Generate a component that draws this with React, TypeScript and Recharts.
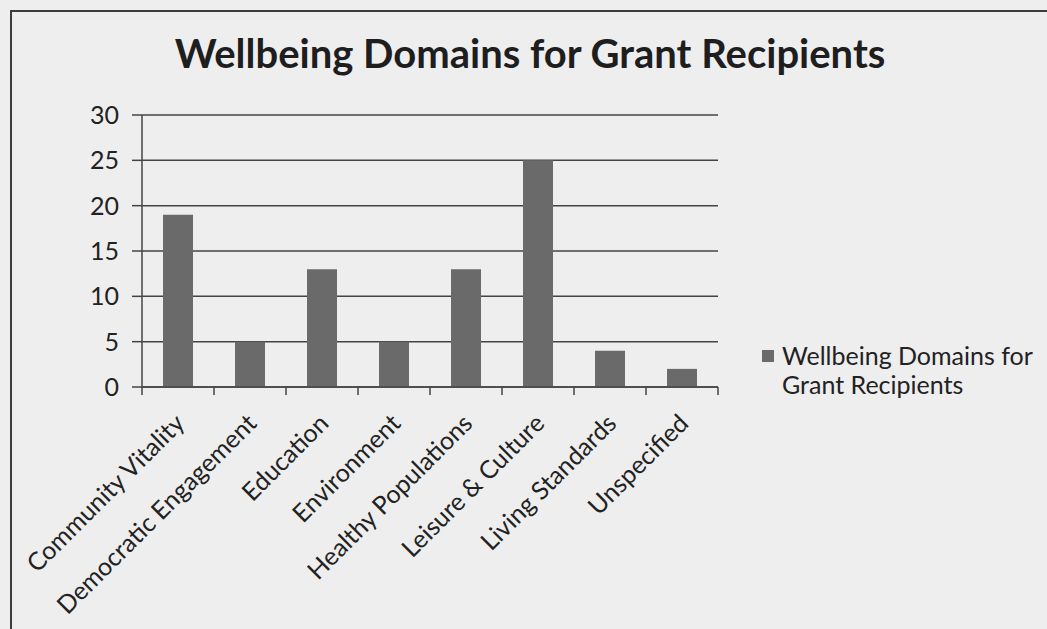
import { Bar, BarChart, CartesianGrid, Legend, XAxis, YAxis } from "recharts"

const domains = [
  "Community Vitality",
  "Democratic Engagement",
  "Education",
  "Environment",
  "Healthy Populations",
  "Leisure & Culture",
  "Living Standards",
  "Unspecified",
]
const recipientCounts = [19, 5, 13, 5, 13, 25, 4, 2]
const countTicks = [0, 5, 10, 15, 20, 25, 30]
const seriesName = "Wellbeing Domains for Grant Recipients"
const chartTitle = "Wellbeing Domains for Grant Recipients"

const data = domains.map((domain, i) => ({ domain, count: recipientCounts[i] }))

const PLOT_WIDTH = 576
const BAND = PLOT_WIDTH / domains.length
const INK = "#444"
const FONT = "Lato, 'Open Sans', sans-serif"

const DomainTick = ({ x, y, payload, index }: any) => (
  <g>
    <line x1={x - BAND / 2} y1={y - 8} x2={x - BAND / 2} y2={y} stroke={INK} strokeWidth={1.5} />
    {index === domains.length - 1 && (
      <line x1={x + BAND / 2} y1={y - 8} x2={x + BAND / 2} y2={y} stroke={INK} strokeWidth={1.5} />
    )}
    <text
      x={x + 8}
      y={y + 30}
      transform={`rotate(-45, ${x + 8}, ${y + 30})`}
      textAnchor="end"
      fontSize={25}
      fontFamily={FONT}
      fill="#222"
    >
      {payload.value}
    </text>
  </g>
)

const LegendBox = () => (
  <div style={{ display: "flex", alignItems: "flex-start", width: 285, fontFamily: FONT, fontSize: 25, color: "#222", lineHeight: "29px" }}>
    <span style={{ width: 12, height: 12, background: "#6a6a6a", marginTop: 9, marginRight: 8, flexShrink: 0 }} />
    <span style={{ width: 265 }}>{seriesName}</span>
  </div>
)

export default function App() {
  return (
    <div style={{ position: "absolute", left: 0, top: 0, width: 1047, height: 629, overflow: "hidden", background: "#eeeeee" }}>
      <div style={{ position: "absolute", left: 10, top: 10, width: 1100, height: 700, border: "2px solid #3c3c3c" }} />
      <div
        style={{
          position: "absolute",
          left: 30,
          width: 1000,
          top: 29,
          textAlign: "center",
          fontFamily: FONT,
          fontWeight: 700,
          fontSize: 40,
          color: "#1e1e1e",
          lineHeight: 1.2,
        }}
      >
        {chartTitle}
      </div>
      <BarChart
        width={1047}
        height={629}
        data={data}
        margin={{ top: 115, right: 44, left: 0, bottom: 92 }}
        barSize={30}
        style={{ position: "absolute", left: 0, top: 0 }}
      >
        <CartesianGrid horizontal vertical={false} stroke={INK} strokeWidth={1.5} />
        <XAxis
          dataKey="domain"
          interval={0}
          height={150}
          axisLine={{ stroke: INK, strokeWidth: 1.5 }}
          tickLine={false}
          tick={<DomainTick />}
        />
        <YAxis
          width={142}
          domain={[0, 30]}
          ticks={countTicks}
          interval={0}
          tickSize={10}
          tickMargin={13}
          axisLine={{ stroke: INK, strokeWidth: 1.5 }}
          tickLine={{ stroke: INK, strokeWidth: 1.5 }}
          tick={{ fontSize: 25, fontFamily: FONT, fill: "#222" }}
        />
        <Legend
          layout="vertical"
          align="right"
          verticalAlign="middle"
          content={<LegendBox />}
          wrapperStyle={{ left: 762, top: 341, right: "auto", width: 285 }}
        />
        <Bar dataKey="count" name={seriesName} fill="#6a6a6a" isAnimationActive={false} />
      </BarChart>
    </div>
  )
}
